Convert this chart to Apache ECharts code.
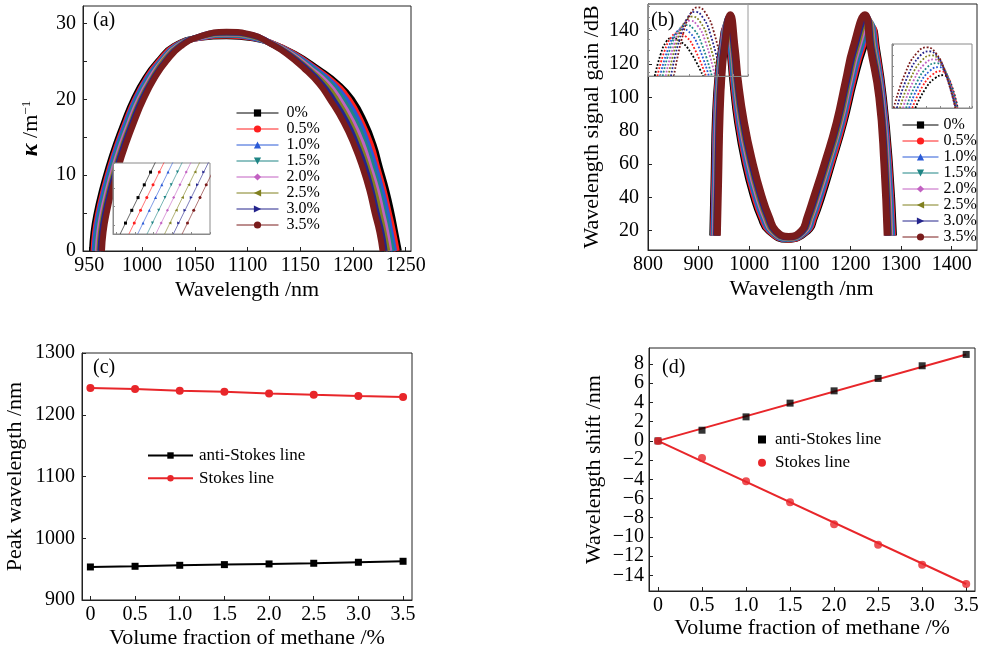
<!DOCTYPE html>
<html>
<head>
<meta charset="utf-8">
<script src="https://cdn.jsdelivr.net/npm/echarts@6/dist/echarts.min.js"></script>
<style>
html, body { margin: 0; padding: 0; background: #fff; }
#chart { width: 985px; height: 650px; }
</style>
</head>
<body>
<div id="chart"></div>
<script>
// ---- data ----
const concLabels = ['0%', '0.5%', '1.0%', '1.5%', '2.0%', '2.5%', '3.0%', '3.5%'];

// (a) coupling coefficient kappa vs wavelength, one curve per methane fraction
const kappa0 = [[952.5,0],[954,2.5],[957,5],[962,8],[968,11],[975,14],[983,17],[992,20],[1003,22.8],[1015,25],[1030,27],[1055,28.1],[1080,28.3],[1105,28.05],[1122,27.45],[1145,26],[1167,24],[1186,22],[1199,20],[1211,17],[1219.5,14],[1225.5,11],[1231.5,8],[1236.5,5],[1240,2.5],[1243.5,0]];
const kappa1 = [[954,0],[955.5,2.5],[958.5,5],[963.5,8],[969.5,11],[976.5,14],[984.5,17],[993.5,20],[1004.5,22.8],[1016,25],[1031,27],[1055,28.1],[1080,28.4],[1105,28.1],[1122,27.45],[1144,26],[1165,24],[1183.5,22],[1196,20],[1208,17],[1217,14],[1223,11],[1229,8],[1234,5],[1238,2.5],[1241.5,0]];
const kappa2 = [[955,0],[956.5,2.5],[959.5,5],[964.5,8],[970.5,11],[977.5,14],[985.5,17],[994.5,20],[1005.5,22.8],[1017.5,25],[1032,27],[1055,28.15],[1080,28.5],[1105,28.15],[1122,27.4],[1142.5,26],[1163.5,24],[1181,22],[1193,20],[1205.5,17],[1214,14],[1221,11],[1227,8],[1232,5],[1235.5,2.5],[1239,0]];
const kappa3 = [[956.5,0],[958,2.5],[961,5],[966,8],[972,11],[979,14],[987,17],[996,20],[1007,22.8],[1018.5,25],[1033,27],[1055,28.2],[1080,28.55],[1105,28.25],[1122,27.4],[1141.5,26],[1161.5,24],[1178.5,22],[1190,20],[1202.5,17],[1211.5,14],[1218.5,11],[1224.5,8],[1229.5,5],[1233.5,2.5],[1237,0]];
const kappa4 = [[958,0],[959.5,2.5],[962.5,5],[967.5,8],[973.5,11],[980.5,14],[988.5,17],[997.5,20],[1008.5,22.8],[1019.5,25],[1034,27],[1055,28.2],[1080,28.65],[1105,28.3],[1122,27.4],[1140.5,26],[1159.5,24],[1176,22],[1187,20],[1199.5,17],[1209,14],[1216,11],[1222.5,8],[1227.5,5],[1231.5,2.5],[1234.5,0]];
const kappa5 = [[959.5,0],[961,2.5],[964,5],[969,8],[975,11],[982,14],[990,17],[999,20],[1010,22.8],[1020.5,25],[1035,27],[1055,28.25],[1080,28.7],[1105,28.35],[1122,27.35],[1139,26],[1157.5,24],[1173,22],[1184,20],[1196.5,17],[1206,14],[1213.5,11],[1220,8],[1225,5],[1229,2.5],[1232.5,0]];
const kappa6 = [[960.5,0],[962,2.5],[965,5],[970,8],[976,11],[983,14],[991,17],[1000,20],[1011,22.8],[1022,25],[1036,27],[1055,28.3],[1080,28.8],[1105,28.45],[1122,27.35],[1138,26],[1156,24],[1170.5,22],[1181,20],[1194,17],[1203.5,14],[1211.5,11],[1217.5,8],[1222.5,5],[1227,2.5],[1230,0]];
const kappa7 = [[962,0],[963.5,2.5],[966.5,5],[971.5,8],[977.5,11],[984.5,14],[992.5,17],[1001.5,20],[1012,22.8],[1023,25],[1037,27],[1055,28.3],[1080,28.9],[1105,28.5],[1122,27.3],[1137,26],[1154,24],[1168,22],[1178,20],[1191,17],[1201,14],[1209,11],[1215.5,8],[1220.5,5],[1225,2.5],[1228,0]];

// (a) inset: zoom on the rising edge
const insetAY = [5.4, 6.1, 6.8, 7.5, 8.2, 8.9, 9.6];
const insetAX0 = [957.5, 958.5, 959.5, 960.5, 961.5, 962.5, 963.5];
const insetAX1 = [958.9, 959.9, 960.9, 961.9, 962.9, 963.9, 964.9];
const insetAX2 = [960.3, 961.3, 962.3, 963.3, 964.3, 965.3, 966.3];
const insetAX3 = [961.8, 962.8, 963.8, 964.8, 965.8, 966.8, 967.8];
const insetAX4 = [963.2, 964.2, 965.2, 966.2, 967.2, 968.2, 969.2];
const insetAX5 = [964.6, 965.6, 966.6, 967.6, 968.6, 969.6, 970.6];
const insetAX6 = [966.0, 967.0, 968.0, 969.0, 970.0, 971.0, 972.0];
const insetAX7 = [967.4, 968.4, 969.4, 970.4, 971.4, 972.4, 973.4];

// (b) wavelength signal gain vs wavelength
const gain0 = [[928,17],[930.5,50],[933.5,90],[939,115],[946,130],[953.5,141.2],[961,130],[967.5,110],[977,85],[992,60],[1009,40],[1023,28],[1038,20],[1075,14.8],[1116,20],[1129,28],[1143,40],[1163,60],[1187,85],[1207,110],[1226,130],[1243.2,141.2],[1251,130],[1265,100],[1277,60],[1285,17]];
const gain1 = [[929.5,17],[932,50],[935,90],[940,115],[947,130],[954.6,142.4],[962.5,130],[969,110],[979,85],[994.5,60],[1011.5,40],[1025.5,28],[1040,20],[1075.5,15.0],[1114,20],[1127,28],[1140.5,40],[1161,60],[1185,85],[1204.5,110],[1223,130],[1241.6,142.4],[1249.5,130],[1263.5,100],[1275.5,60],[1283,17]];
const gain2 = [[930.5,17],[933,50],[936,90],[941,115],[947.5,130],[956.2,143.6],[964,130],[970.5,110],[981,85],[996.5,60],[1014,40],[1028,28],[1042.5,20],[1076,15.3],[1112.5,20],[1124.5,28],[1138.5,40],[1158.5,60],[1182.5,85],[1202,110],[1220,130],[1238.9,143.6],[1247.5,130],[1262.5,100],[1274,60],[1281.5,17]];
const gain3 = [[932,17],[934.5,50],[937.5,90],[942,115],[948.5,130],[957.3,144.8],[965.5,130],[972,110],[983,85],[999,60],[1016.5,40],[1030.5,28],[1044.5,20],[1076.5,15.5],[1110.5,20],[1122.5,28],[1136,40],[1156.5,60],[1180.5,85],[1199.5,110],[1217,130],[1237.3,144.8],[1246,130],[1261,100],[1272.5,60],[1279.5,17]];
const gain4 = [[933,17],[935.5,50],[938.5,90],[943.5,115],[949,130],[958.4,146.0],[967.5,130],[974,110],[984.5,85],[1001,60],[1018.5,40],[1032.5,28],[1046.5,20],[1076.5,15.8],[1108.5,20],[1120.5,28],[1134,40],[1154.5,60],[1178.5,85],[1197.5,110],[1214,130],[1234.6,146.0],[1244,130],[1260,100],[1271,60],[1277.5,17]];
const gain5 = [[934.5,17],[937,50],[940,90],[944.5,115],[950,130],[959.5,147.2],[969,130],[975.5,110],[986.5,85],[1003.5,60],[1021,40],[1035,28],[1048.5,20],[1077,16.0],[1106.5,20],[1118.5,28],[1131.5,40],[1152.5,60],[1176.5,85],[1195,110],[1211,130],[1232.4,147.2],[1242.5,130],[1258.5,100],[1269,60],[1275.5,17]];
const gain6 = [[935.5,17],[938,50],[941,90],[945.5,115],[950.5,130],[961.1,148.4],[970.5,130],[977,110],[988.5,85],[1005.5,60],[1023.5,40],[1037.5,28],[1051,20],[1077.5,16.3],[1105,20],[1116,28],[1129.5,40],[1150,60],[1174,85],[1192.5,110],[1208,130],[1230.3,148.4],[1240.5,130],[1257.5,100],[1267.5,60],[1274,17]];
const gain7 = [[937,17],[939.5,50],[942.5,90],[946.5,115],[951.5,130],[962.7,149.6],[972,130],[978.5,110],[990.5,85],[1008,60],[1026,40],[1040,28],[1053,20],[1078,16.5],[1103,20],[1114,28],[1127,40],[1148,60],[1172,85],[1190,110],[1205,130],[1228.6,149.6],[1239,130],[1256,100],[1266,60],[1272.5,17]];

// (b) left inset: anti-Stokes peaks enlarged
const insetBL0 = [[948.3,131],[950.3,136.9],[952.2,140.3],[953.9,141.2],[957.1,140.3],[960.4,137.5],[964.7,131]];
const insetBL1 = [[949.2,131],[951.6,137.7],[954.0,141.6],[956.0,142.6],[959.0,141.6],[961.8,138.4],[965.7,131]];
const insetBL2 = [[950.1,131],[952.8,138.3],[955.4,142.6],[957.7,143.7],[960.4,142.6],[963.1,139.1],[966.7,131]];
const insetBL3 = [[951.0,131],[953.8,139.0],[956.6,143.6],[959.0,144.8],[961.6,143.6],[964.2,139.8],[967.7,131]];
const insetBL4 = [[952.0,131],[954.9,139.7],[957.7,144.7],[960.2,146.0],[962.8,144.7],[965.4,140.6],[968.8,131]];
const insetBL5 = [[952.9,131],[955.8,140.3],[958.6,145.7],[961.1,147.1],[963.7,145.7],[966.3,141.3],[969.8,131]];
const insetBL6 = [[953.8,131],[956.7,141.0],[959.5,146.8],[962.0,148.4],[964.7,146.8],[967.3,142.1],[970.9,131]];
const insetBL7 = [[954.8,131],[957.7,141.7],[960.5,147.9],[963.0,149.6],[965.7,147.9],[968.4,142.9],[972.0,131]];

// (b) right inset: Stokes peaks enlarged
const insetBR0 = [[1222.4,131.4],[1229.3,137.1],[1236.1,140.3],[1242.0,141.2],[1244.9,140.3],[1247.9,137.7],[1251.8,131.4]];
const insetBR1 = [[1220.3,131.4],[1227.3,137.8],[1234.4,141.4],[1240.4,142.4],[1243.8,141.4],[1247.1,138.4],[1251.6,131.4]];
const insetBR2 = [[1218.1,131.4],[1225.3,138.5],[1232.5,142.5],[1238.7,143.6],[1242.5,142.5],[1246.3,139.2],[1251.3,131.4]];
const insetBR3 = [[1216.0,131.4],[1223.4,139.1],[1230.8,143.6],[1237.1,144.8],[1241.3,143.6],[1245.5,140.0],[1251.1,131.4]];
const insetBR4 = [[1213.8,131.4],[1221.4,139.8],[1228.9,144.6],[1235.4,145.9],[1240.0,144.6],[1244.6,140.7],[1250.8,131.4]];
const insetBR5 = [[1211.7,131.4],[1219.4,140.5],[1227.2,145.7],[1233.8,147.1],[1238.8,145.7],[1243.9,141.5],[1250.6,131.4]];
const insetBR6 = [[1209.5,131.4],[1217.4,141.2],[1225.3,146.8],[1232.1,148.3],[1237.6,146.8],[1243.0,142.2],[1250.3,131.4]];
const insetBR7 = [[1207.4,131.4],[1215.5,141.9],[1223.6,147.9],[1230.5,149.5],[1236.4,147.9],[1242.3,143.0],[1250.1,131.4]];

// (c) peak wavelength and (d) wavelength shift vs methane fraction
const volumeFrac = [0, 0.5, 1.0, 1.5, 2.0, 2.5, 3.0, 3.5];
const peakAntiStokes = [953.5, 954.6, 956.2, 957.3, 958.4, 959.5, 961.1, 962.7];
const peakStokes = [1243.2, 1241.6, 1238.9, 1237.3, 1234.6, 1232.4, 1230.3, 1228.6];
const shiftAntiStokes = [0, 1.11, 2.5, 3.93, 5.21, 6.5, 7.82, 9.0];
const shiftStokes = [0, -1.77, -4.2, -6.4, -8.69, -10.81, -12.9, -14.91];
const fitX = [0, 3.5];
const fitAntiStokes = [0, 9.0];
const fitStokes = [0, -14.9];

// tick values
const ticksAX = [950, 1000, 1050, 1100, 1150, 1200, 1250];
const ticksAY = [0, 10, 20, 30];
const minorAY = [0, 5, 10, 15, 20, 25, 30];
const ticksBX = [800, 900, 1000, 1100, 1200, 1300, 1400];
const ticksBY = [20, 40, 60, 80, 100, 120, 140];
const ticksCY = [900, 1000, 1100, 1200, 1300];
const ticksDY = [-14, -12, -10, -8, -6, -4, -2, 0, 2, 4, 6, 8];
// (d) labels are packed tightly, so they are split over two label rows of the same axis
const labelsDYa = [-12, -8, -4, 0, 4, 8];
const labelsDYb = [-14, -10, -6, -2, 2, 6];

// ---- styles ----
const SERIF = '"Liberation Serif", "Times New Roman", serif';
const curveColors = ['#000000', '#ff1f1f', '#2b5bd7', '#1f8585', '#c261c2', '#80801f', '#24248c', '#7a1c1c'];
const curveSymbols = ['rect', 'circle', 'triangle', 'triangle', 'diamond', 'triangle', 'triangle', 'circle'];
const curveRotate = [0, 0, 0, 180, 0, 90, -90, 0];
const RED = '#e8262a';

const kappaCurves = [kappa0, kappa1, kappa2, kappa3, kappa4, kappa5, kappa6, kappa7];
const insetAXs = [insetAX0, insetAX1, insetAX2, insetAX3, insetAX4, insetAX5, insetAX6, insetAX7];
const gainCurves = [gain0, gain1, gain2, gain3, gain4, gain5, gain6, gain7];
const insetBLs = [insetBL0, insetBL1, insetBL2, insetBL3, insetBL4, insetBL5, insetBL6, insetBL7];
const insetBRs = [insetBR0, insetBR1, insetBR2, insetBR3, insetBR4, insetBR5, insetBR6, insetBR7];

const zip = (xs, ys) => xs.map((x, i) => [x, ys[i]]);
const fmtPlain = v => String(v);
const fmtDec = v => (v === 0 ? '0' : v.toFixed(1));
const fmtMinus = v => (v < 0 ? '\u2212' + Math.abs(v) : String(v));

function mainAxis(gridIndex, min, max, labels, ticks, fmt) {
  return {
    type: 'value', gridIndex, min, max,
    axisLine: { show: true, onZero: false, lineStyle: { color: '#222', width: 1 } },
    axisTick: { show: true, inside: true, length: 4, interval: 0, customValues: ticks, lineStyle: { color: '#222' } },
    axisLabel: {
      customValues: labels, interval: 0, color: '#000', fontFamily: SERIF, fontSize: 20, lineHeight: 16,
      margin: 7, formatter: fmt || fmtPlain, showMinLabel: true, showMaxLabel: true, hideOverlap: false
    },
    splitLine: { show: false },
    nameTextStyle: { fontFamily: SERIF, fontSize: 22, color: '#000' },
    nameLocation: 'middle'
  };
}

function insetAxis(gridIndex, min, max, z) {
  return {
    type: 'value', gridIndex, min, max, z,
    axisLine: { show: true, onZero: false, lineStyle: { color: '#8a8a8a', width: 1 } },
    axisTick: { show: true, inside: true, length: 2, lineStyle: { color: '#8a8a8a' } },
    axisLabel: { show: false },
    splitLine: { show: false }
  };
}

const xAxis = [
  Object.assign(mainAxis(0, 944, 1255, ticksAX, ticksAX), { name: 'Wavelength /nm', nameGap: 28 }),
  insetAxis(1, 956.5, 972, 12),
  Object.assign(mainAxis(2, 800, 1450, ticksBX, ticksBX), { name: 'Wavelength /nm', nameGap: 28 }),
  insetAxis(3, 946, 980, 3),
  insetAxis(4, 1206.2, 1261.7, 3),
  Object.assign(mainAxis(5, -0.094, 3.6, volumeFrac, volumeFrac, fmtDec), { name: 'Volume fraction of methane /%', nameGap: 27 }),
  Object.assign(mainAxis(6, -0.102, 3.6, volumeFrac, volumeFrac, fmtDec), { name: 'Volume fraction of methane /%', nameGap: 26 })
];
xAxis[2].nameTextStyle = { fontFamily: SERIF, fontSize: 22, color: '#000', padding: [0, 22, 0, 0] };

const dLabelsB = Object.assign(mainAxis(6, -15.63, 9.67, labelsDYb, [], fmtMinus), { position: 'left' });
dLabelsB.axisLine = { show: false, onZero: false };
dLabelsB.axisTick = { show: false };
dLabelsB.axisLabel.margin = 5;

const yAxis = [
  Object.assign(mainAxis(0, 0, 32.3, ticksAY, minorAY), {
    name: '{k|\u03ba} /m{s|\u22121}', nameGap: 40,
    nameTextStyle: {
      fontFamily: SERIF, fontSize: 22, color: '#000',
      rich: {
        k: { fontFamily: SERIF, fontSize: 24, fontStyle: 'italic', fontWeight: 'bold', color: '#000' },
        s: { fontFamily: SERIF, fontSize: 13, color: '#000', padding: [0, 0, 9, 0] }
      }
    }
  }),
  insetAxis(1, 5.5, 9.4, 12),
  Object.assign(mainAxis(2, 8.4, 156, ticksBY, ticksBY), { name: 'Wavelength signal gain /dB', nameGap: 45 }),
  insetAxis(3, 131, 150.5, 3),
  insetAxis(4, 131.4, 150.5, 3),
  Object.assign(mainAxis(5, 900, 1300, ticksCY, ticksCY), { name: 'Peak wavelength /nm', nameGap: 56 }),
  Object.assign(mainAxis(6, -15.63, 9.67, labelsDYa, ticksDY, fmtMinus), { name: 'Wavelength shift /nm', nameGap: 44, position: 'left' }),
  dLabelsB
];
yAxis[6].axisLabel.margin = 5;
yAxis[2].axisLabel.margin = 9;

const frame = { show: true, borderColor: '#222', borderWidth: 1, backgroundColor: 'transparent' };
const grid = [
  Object.assign({ left: 83, top: 6, width: 328, height: 245 }, frame),
  { show: true, left: 113, top: 163, width: 97, height: 71, borderColor: '#8a8a8a', borderWidth: 1, backgroundColor: '#fff', z: 10 },
  Object.assign({ left: 648, top: 4, width: 329, height: 246 }, frame),
  { show: true, left: 648, top: 4, width: 100, height: 72, borderColor: '#9a9a9a', borderWidth: 1, backgroundColor: 'transparent' },
  { show: true, left: 892, top: 44, width: 80, height: 64, borderColor: '#8a8a8a', borderWidth: 1, backgroundColor: '#fff' },
  Object.assign({ left: 82, top: 353, width: 330, height: 247 }, frame),
  Object.assign({ left: 649, top: 348, width: 326, height: 243 }, frame)
];

const series = [];
concLabels.forEach((name, i) => {
  const style = {
    color: curveColors[i], symbol: curveSymbols[i], symbolRotate: curveRotate[i], symbolSize: 7
  };
  series.push(Object.assign({
    type: 'line', name, xAxisIndex: 0, yAxisIndex: 0, data: kappaCurves[i],
    showSymbol: false, smooth: 0.5,
    lineStyle: { width: 6 }, z: 2
  }, style));
  series.push(Object.assign({
    type: 'line', name: 'insetA' + i, xAxisIndex: 1, yAxisIndex: 1, data: zip(insetAXs[i], insetAY),
    showSymbol: true, lineStyle: { width: 0.8, opacity: 0.75 }, z: 11
  }, style, { symbolSize: 3 }));
  series.push(Object.assign({
    type: 'line', name, xAxisIndex: 2, yAxisIndex: 2, data: gainCurves[i],
    showSymbol: false, smooth: 0.5,
    lineStyle: { width: 7 }, z: 2
  }, style));
  series.push({
    type: 'line', name: 'insetBL' + i, xAxisIndex: 3, yAxisIndex: 3, data: insetBLs[i],
    color: curveColors[i], showSymbol: false, smooth: 0.5, z: 1,
    lineStyle: { width: 1.8, type: 'dotted' }
  });
  series.push({
    type: 'line', name: 'insetBR' + i, xAxisIndex: 4, yAxisIndex: 4, data: insetBRs[i],
    color: curveColors[i], showSymbol: false, smooth: 0.5, z: 4,
    lineStyle: { width: 1.8, type: 'dotted' }
  });
});

// (c)
series.push({
  type: 'line', name: 'anti-Stokes line', xAxisIndex: 5, yAxisIndex: 5,
  data: zip(volumeFrac, peakAntiStokes), color: '#000', symbol: 'rect', symbolSize: 7,
  lineStyle: { width: 2 }
});
series.push({
  type: 'line', name: 'Stokes line', xAxisIndex: 5, yAxisIndex: 5,
  data: zip(volumeFrac, peakStokes), color: RED, symbol: 'circle', symbolSize: 8,
  lineStyle: { width: 2 }
});
// (d)
series.push({
  type: 'line', name: 'fitAnti', xAxisIndex: 6, yAxisIndex: 6,
  data: zip(fitX, fitAntiStokes), color: RED, symbol: 'none', lineStyle: { width: 2 }, z: 1
});
series.push({
  type: 'line', name: 'fitStokes', xAxisIndex: 6, yAxisIndex: 6,
  data: zip(fitX, fitStokes), color: RED, symbol: 'none', lineStyle: { width: 2 }, z: 1
});
series.push({
  type: 'scatter', name: 'anti-Stokes line', xAxisIndex: 6, yAxisIndex: 6,
  data: zip(volumeFrac, shiftAntiStokes), color: '#000', symbol: 'rect', symbolSize: 7, z: 3
});
series.push({
  type: 'scatter', name: 'Stokes line', xAxisIndex: 6, yAxisIndex: 6,
  data: zip(volumeFrac, shiftStokes), color: RED, symbol: 'circle', symbolSize: 8, z: 3
});

const legendText = { fontFamily: SERIF, fontSize: 16, color: '#000', lineHeight: 14 };
const legend = [
  {
    data: concLabels, orient: 'vertical', left: 236, top: 105, padding: 0,
    itemWidth: 42, itemHeight: 9, itemGap: 0, selectedMode: false,
    lineStyle: { width: 1 }, textStyle: Object.assign({ padding: [0, 0, 0, 3] }, legendText)
  },
  {
    data: concLabels, orient: 'vertical', left: 902, top: 117, padding: 0,
    itemWidth: 36, itemHeight: 9, itemGap: 0, selectedMode: false,
    lineStyle: { width: 1 }, textStyle: Object.assign({}, legendText)
  },
  {
    data: ['anti-Stokes line', 'Stokes line'], orient: 'vertical', left: 147, top: 447, padding: 0,
    itemWidth: 45, itemHeight: 8, itemGap: 5.7, selectedMode: false,
    lineStyle: { width: 2 },
    textStyle: { fontFamily: SERIF, fontSize: 17, color: '#000', lineHeight: 16, padding: [0, 0, 0, 1] }
  },
  {
    data: [{ name: 'anti-Stokes line', icon: 'rect' }, { name: 'Stokes line', icon: 'circle' }],
    orient: 'vertical', left: 758, top: 431, padding: 0,
    itemWidth: 8, itemHeight: 8, itemGap: 6.3, selectedMode: false,
    textStyle: { fontFamily: SERIF, fontSize: 17, color: '#000', lineHeight: 16, padding: [0, 0, 0, 4] }
  }
];

const panelTitle = (text, left, top) => ({
  text, left, top, padding: 0,
  textStyle: { fontFamily: SERIF, fontSize: 20, fontWeight: 'normal', color: '#000' }
});

const chart = echarts.init(document.getElementById('chart'), null, { renderer: 'canvas' });
chart.setOption({
  animation: false,
  backgroundColor: '#fff',
  title: [
    panelTitle('(a)', 93, 11),
    panelTitle('(b)', 651, 11),
    panelTitle('(c)', 93, 358),
    panelTitle('(d)', 662, 358)
  ],
  legend,
  grid,
  xAxis,
  yAxis,
  series
});
</script>
</body>
</html>
